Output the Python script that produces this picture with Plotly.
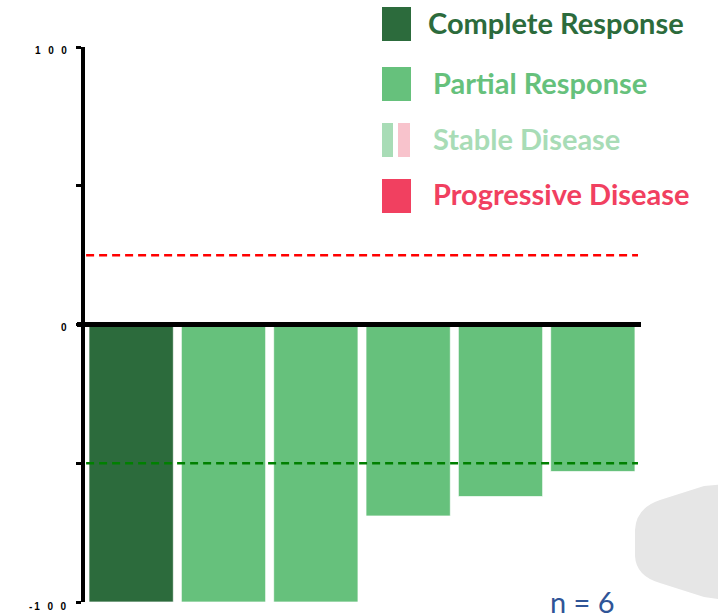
import plotly.graph_objects as go

# ---- data ----
patients = ["P1", "P2", "P3", "P4", "P5", "P6"]
change_pct = [-100, -100, -100, -69, -62, -53]
response = ["CR", "PR", "PR", "PR", "PR", "PR"]

legend_labels = ["Complete Response", "Partial Response", "Stable Disease", "Progressive Disease"]
legend_keys = ["CR", "PR", "SD", "PD"]
colors = {"CR": "#2c6b3c", "PR": "#66c17c", "SD": "#a8dcb6", "PD": "#f14060"}
sd_pink = "#f8c3cc"
text_colors = {"CR": "#2c6b3c", "PR": "#66c17c", "SD": "#a8dcb6", "PD": "#f14060"}

GAP = "\u2007\u2009"
ytick_vals = [100, 50, 0, -50, -100]
label_vals = [100, 0, -100]
label_text = ["1" + GAP + "0" + GAP + "0", "0", "-\u20091" + GAP + "0" + GAP + "0"]
pd_threshold = 25
pr_threshold = -50
n_label = "n = 6"

W, H = 718, 616
L, R, T, B = 85, 79, 47, 14
PW, PH = W - L - R, H - T - B


def px(xp):
    return (xp - L) / PW


def py(yp):
    return (H - B - yp) / PH


fig = go.Figure()
fig.add_trace(go.Bar(
    x=patients, y=change_pct,
    marker=dict(color=[colors[r] for r in response],
                line=dict(color="rgba(255,255,255,0.7)", width=1)),
    showlegend=False, hoverinfo="y",
))

shapes = []
# background blob (decoration)
blob = [("M", 725, 484), ("L", 704, 486), ("L", 660, 500), ("Q", 636, 508, 635, 530),
        ("L", 635, 556), ("Q", 636, 576, 660, 583), ("L", 704, 597), ("L", 725, 600)]
parts = []
for c in blob:
    pts = c[1:]
    coords = []
    for i in range(0, len(pts), 2):
        coords.append(f"{px(pts[i]):.5f},{py(pts[i+1]):.5f}")
    parts.append(c[0] + " " + " ".join(coords))
shapes.append(dict(type="path", path=" ".join(parts) + " Z", xref="paper", yref="paper",
                   fillcolor="#e6e6e6", line=dict(width=0), layer="below"))

# threshold lines
shapes.append(dict(type="line", xref="paper", yref="y", x0=0.002, x1=px(638), y0=pd_threshold, y1=pd_threshold,
                   line=dict(color="#ff0000", width=2.5, dash="8px,5px")))
shapes.append(dict(type="line", xref="paper", yref="y", x0=0.002, x1=px(638), y0=pr_threshold, y1=pr_threshold,
                   line=dict(color="#008000", width=2.5, dash="8px,5px")))
# zero line
shapes.append(dict(type="line", xref="paper", yref="y", x0=px(77), x1=px(641), y0=0, y1=0,
                   line=dict(color="black", width=5)))

# legend squares
sq_tops = [7, 67, 123, 179]
for key, top in zip(legend_keys, sq_tops):
    if key == "SD":
        shapes.append(dict(type="rect", xref="paper", yref="paper", x0=px(382), x1=px(393),
                           y0=py(top + 34), y1=py(top), fillcolor=colors["SD"], line=dict(width=0)))
        shapes.append(dict(type="rect", xref="paper", yref="paper", x0=px(398), x1=px(410),
                           y0=py(top + 34), y1=py(top), fillcolor=sd_pink, line=dict(width=0)))
    else:
        shapes.append(dict(type="rect", xref="paper", yref="paper", x0=px(382), x1=px(411),
                           y0=py(top + 34), y1=py(top), fillcolor=colors[key], line=dict(width=0)))

annotations = []
text_x = [426, 431, 431, 431]
text_y = [22, 82, 138, 194]
for key, lab, tx, ty in zip(legend_keys, legend_labels, text_x, text_y):
    annotations.append(dict(text=f"<b>{lab}</b>", xref="paper", yref="paper", x=px(tx), y=py(ty),
                            xanchor="left", yanchor="middle", showarrow=False,
                            font=dict(family="Lato", size=29, color=text_colors[key])))
annotations.append(dict(text=n_label, xref="paper", yref="paper", x=px(548), y=py(601),
                        xanchor="left", yanchor="middle", showarrow=False,
                        font=dict(family="Lato", size=29, color="#2f5597")))
# y tick labels (placed slightly below their ticks, as in the reference)
for v, t in zip(label_vals, label_text):
    annotations.append(dict(text=t, xref="paper", yref="y", x=px(69), y=v,
                            xanchor="right", yanchor="middle", showarrow=False,
                            yshift=-4 if v < 0 else -3,
                            font=dict(family="Arial", size=10, color="black", weight="bold")))

fig.update_layout(
    width=W, height=H,
    margin=dict(l=L, r=R, t=T, b=B, pad=0),
    paper_bgcolor="white", plot_bgcolor="white",
    bargap=0.087,
    shapes=shapes, annotations=annotations,
    xaxis=dict(visible=False, range=[-0.5, 5.5], fixedrange=True),
    yaxis=dict(range=[-100, 100], tickvals=ytick_vals, showticklabels=False,
               showgrid=False, zeroline=False, showline=True, linecolor="black", linewidth=4,
               ticks="outside", ticklen=5, tickwidth=3, tickcolor="black"),
)

fig.write_html("out.html", config={"displayModeBar": False},
               post_script="document.body.style.margin='0';document.body.style.overflow='hidden';")
